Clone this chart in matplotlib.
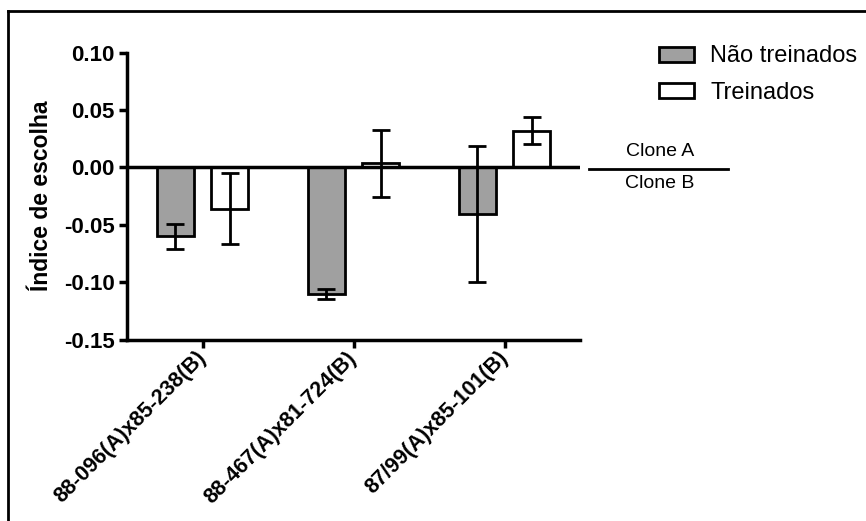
import numpy as np
import matplotlib
matplotlib.use('Agg')
import matplotlib.pyplot as plt
from matplotlib.lines import Line2D

plt.rcParams['font.family'] = ['Liberation Sans', 'DejaVu Sans']

categories = ['88-096(A)x85-238(B)', '88-467(A)x81-724(B)', '87/99(A)x85-101(B)']
nao_treinados = [-0.060, -0.1105, -0.0405]
nao_treinados_err = [0.011, 0.0045, 0.0595]
treinados = [-0.036, 0.0035, 0.032]
treinados_err = [0.031, 0.0295, 0.0118]
series_labels = ['Não treinados', 'Treinados']
yticks = [-0.15, -0.10, -0.05, 0.00, 0.05, 0.10]

W, H = 866, 521
fig = plt.figure(figsize=(W / 100, H / 100), dpi=100)
ax = fig.add_axes([127 / W, 1 - 339.5 / H, (580 - 127) / W, (339.5 - 52.7) / H])

x = np.arange(len(categories))
w = 0.245
off = 0.18
ekw = dict(elinewidth=2, capthick=2, capsize=6.5, ecolor='black')
ax.bar(x - off, nao_treinados, w, yerr=nao_treinados_err, color='#a0a0a0',
       edgecolor='black', linewidth=2, error_kw=ekw, label=series_labels[0], zorder=2)
ax.bar(x + off, treinados, w, yerr=treinados_err, color='white',
       edgecolor='black', linewidth=2, error_kw=ekw, label=series_labels[1], zorder=2)
ax.axhline(0, color='black', linewidth=2.5, zorder=3)

ax.set_xlim(-0.5, 2.5)
ax.set_ylim(-0.15, 0.10)
ax.set_yticks(yticks)
ax.set_yticklabels(['%.2f' % v for v in yticks], fontsize=16, fontweight='bold')
ax.set_xticks(x)
ax.set_xticklabels(categories, rotation=45, ha='right', va='center', rotation_mode='anchor',
                   fontsize=15.5, fontweight='bold')
ax.tick_params(width=2.5, length=6, direction='out', pad=3)
ax.tick_params(axis='x', pad=5)
ax.set_ylabel('Índice de escolha', fontsize=16.5, fontweight='bold')
ax.yaxis.set_label_coords(-0.163, 0.5)
for s in ['top', 'right']:
    ax.spines[s].set_visible(False)
for s in ['left', 'bottom']:
    ax.spines[s].set_linewidth(2.5)

leg = fig.legend(loc='upper left', bbox_to_anchor=(650 / W, 1 - 36 / H), frameon=False,
                 fontsize=17, handlelength=1.45, handleheight=0.6, labelspacing=0.62,
                 handletextpad=0.7, borderaxespad=0)

# Clone A / Clone B annotation
fig.add_artist(Line2D([589 / W, 728 / W], [1 - 168.5 / H, 1 - 168.5 / H],
                      color='black', linewidth=2))
fig.text(660 / W, 1 - 151 / H, 'Clone A', ha='center', va='center', fontsize=14)
fig.text(660 / W, 1 - 184 / H, 'Clone B', ha='center', va='center', fontsize=14)

# outer frame (top and left)
fig.add_artist(Line2D([8 / W, 1], [1 - 11 / H, 1 - 11 / H], color='black', linewidth=2))
fig.add_artist(Line2D([8 / W, 8 / W], [0, 1 - 11 / H], color='black', linewidth=2))

fig.savefig('out.png', dpi=100)
